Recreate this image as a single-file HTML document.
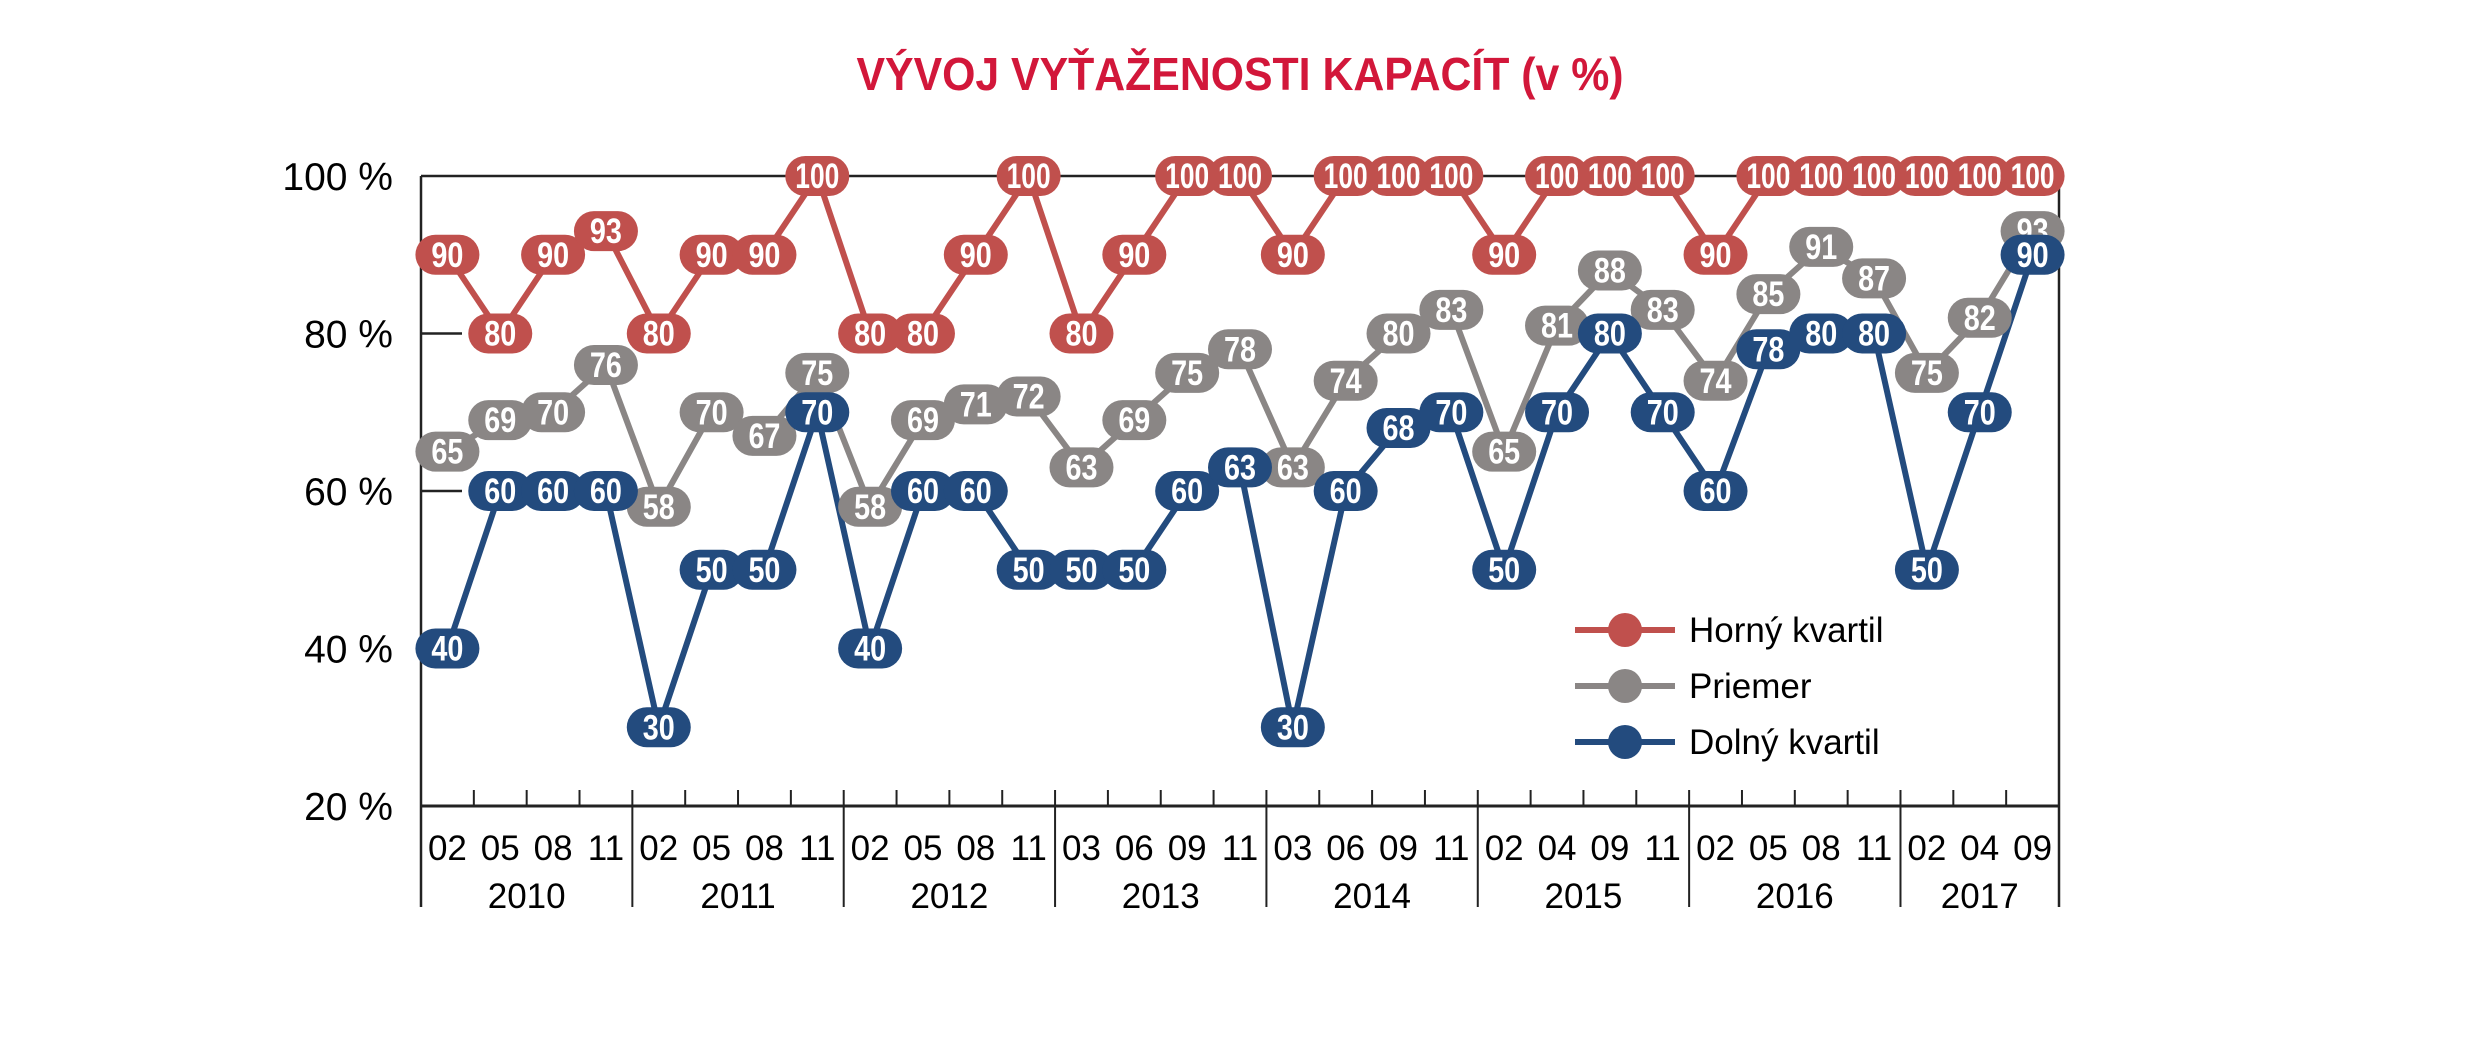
<!DOCTYPE html>
<html><head><meta charset="utf-8"><style>
html,body{margin:0;padding:0;background:#fff;}
svg{display:block;}
</style></head><body>
<svg id="c" width="2478" height="1048" xmlns="http://www.w3.org/2000/svg">
<text x="1240" y="90" text-anchor="middle" textLength="767" lengthAdjust="spacingAndGlyphs" font-family="'Liberation Sans',sans-serif" font-weight="bold" font-size="46" fill="#d2173a">VÝVOJ VYŤAŽENOSTI KAPACÍT (v %)</text>
<g id="g"></g>
</svg>
<script>
const g=document.getElementById('g');
const NS='http://www.w3.org/2000/svg';
function el(t,a,txt){const e=document.createElementNS(NS,t);for(const k in a)e.setAttribute(k,a[k]);if(txt!==undefined)e.textContent=txt;g.appendChild(e);return e;}
const L=421,R=2059,T=176,B=806,N=31,dx=(R-L)/N;
const Y=v=>B-(v-20)/80*(B-T);
const X=i=>L+dx*(i+0.5);
el('line',{x1:L,y1:T,x2:R,y2:T,stroke:'#222','stroke-width':2.5});
el('line',{x1:L,y1:T,x2:L,y2:907,stroke:'#222','stroke-width':2.5});
el('line',{x1:R,y1:T,x2:R,y2:907,stroke:'#222','stroke-width':2.5});
el('line',{x1:L,y1:B,x2:R,y2:B,stroke:'#222','stroke-width':3});
[80,60,40].forEach(v=>el('line',{x1:L,y1:Y(v),x2:L+41,y2:Y(v),stroke:'#222','stroke-width':2.5}));
[100,80,60,40,20].forEach(v=>el('text',{x:393,y:Y(v)+14,'text-anchor':'end','font-family':"'Liberation Sans',sans-serif",'font-size':39,fill:'#000'},v+' %'));
for(let i=1;i<N;i++){el('line',{x1:L+dx*i,y1:B-16,x2:L+dx*i,y2:B,stroke:'#222','stroke-width':2});}
const months=['02','05','08','11','02','05','08','11','02','05','08','11','03','06','09','11','03','06','09','11','02','04','09','11','02','05','08','11','02','04','09'];
months.forEach((m,i)=>el('text',{x:X(i),y:860,'text-anchor':'middle','font-family':"'Liberation Sans',sans-serif",'font-size':35,fill:'#000'},m));
for(let y=0;y<8;y++){const s=y*4,e=Math.min(s+4,N);
 if(y>0)el('line',{x1:L+dx*s,y1:B,x2:L+dx*s,y2:907,stroke:'#222','stroke-width':2});
 el('text',{x:L+dx*(s+e)/2,y:908,'text-anchor':'middle','font-family':"'Liberation Sans',sans-serif",'font-size':35,fill:'#000'},String(2010+y));}
const S=[
 {c:'#c0504d',d:[90,80,90,93,80,90,90,100,80,80,90,100,80,90,100,100,90,100,100,100,90,100,100,100,90,100,100,100,100,100,100]},
 {c:'#8a8685',d:[65,69,70,76,58,70,67,75,58,69,71,72,63,69,75,78,63,74,80,83,65,81,88,83,74,85,91,87,75,82,93]},
 {c:'#234b7e',d:[40,60,60,60,30,50,50,70,40,60,60,50,50,50,60,63,30,60,68,70,50,70,80,70,60,78,80,80,50,70,90]}];
S.forEach(s=>el('polyline',{points:s.d.map((v,i)=>X(i)+','+Y(v)).join(' '),fill:'none',stroke:s.c,'stroke-width':6,'stroke-linejoin':'round'}));
S.forEach(s=>s.d.forEach((v,i)=>{
 el('rect',{x:X(i)-32,y:Y(v)-20,width:64,height:40,rx:20,ry:20,fill:s.c});
 el('text',{x:X(i),y:Y(v)+12,'text-anchor':'middle',textLength:v==100?44:32,lengthAdjust:'spacingAndGlyphs','font-family':"'Liberation Sans',sans-serif",'font-weight':'bold','font-size':35,fill:'#fff'},String(v));
}));
const lg=[['#c0504d','Horný kvartil',630],['#8a8685','Priemer',686],['#234b7e','Dolný kvartil',742]];
lg.forEach(([c,t,y])=>{el('line',{x1:1575,y1:y,x2:1675,y2:y,stroke:c,'stroke-width':6});
 el('circle',{cx:1625,cy:y,r:17,fill:c});
 el('text',{x:1689,y:y+12,'font-family':"'Liberation Sans',sans-serif",'font-size':35,fill:'#000'},t);});
</script>
</body></html>
